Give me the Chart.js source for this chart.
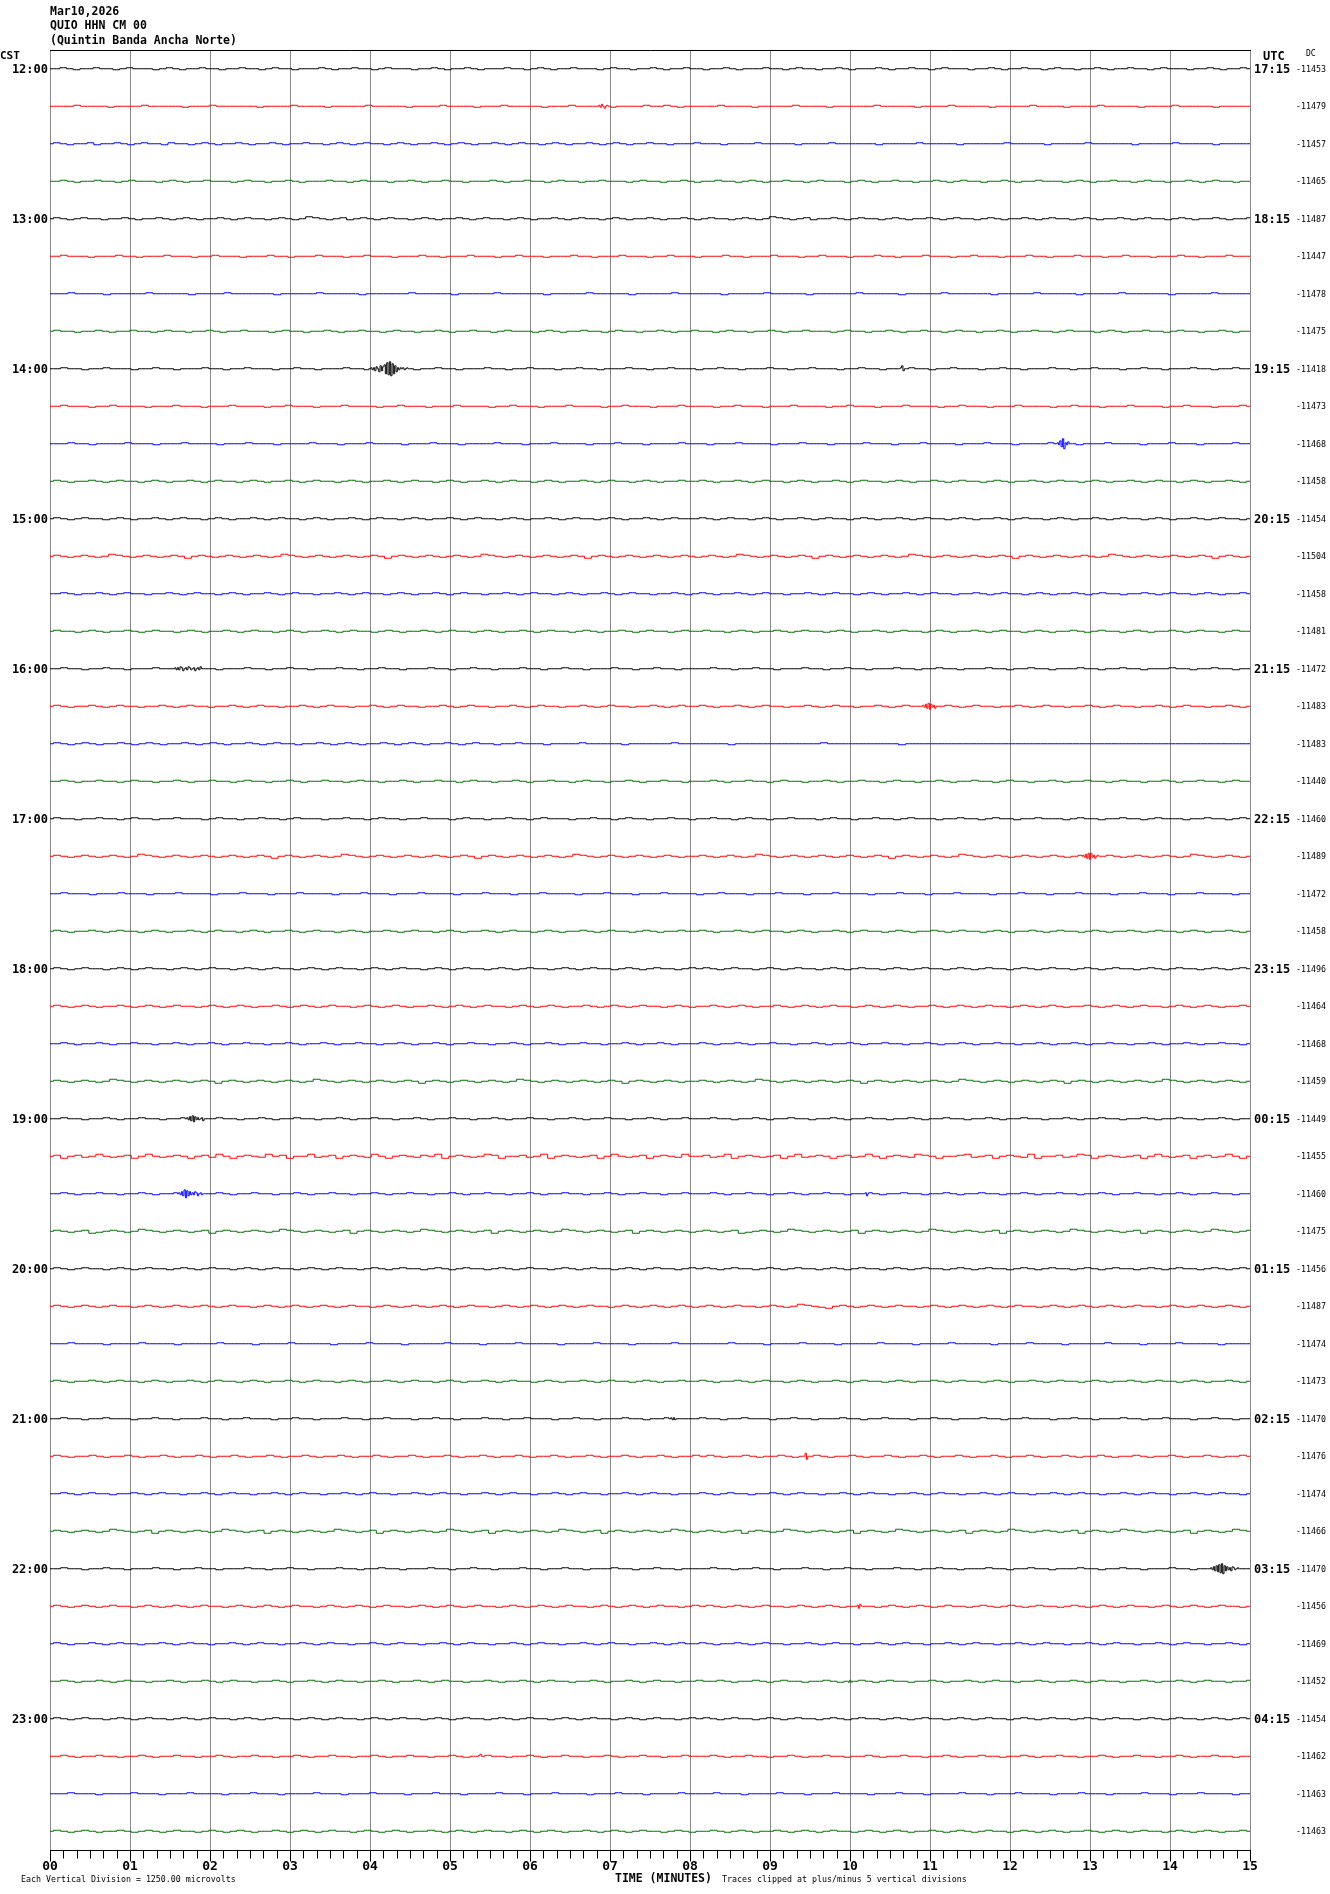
<!DOCTYPE html>
<html><head><meta charset="utf-8">
<script src="https://cdn.jsdelivr.net/npm/chart.js@4/dist/chart.umd.min.js"></script>
<style>html,body{margin:0;padding:0;background:#fff;}canvas{display:block;}</style>
</head><body>
<canvas id="c" width="1330" height="1894"></canvas>
<script>
// ---------- DATA ----------
const titleLines = ["Mar10,2026", "QUIO HHN CM 00", "(Quintin Banda Ancha Norte)"];
const cstLabels = ["12:00","13:00","14:00","15:00","16:00","17:00","18:00","19:00","20:00","21:00","22:00","23:00"];
const utcLabels = ["17:15","18:15","19:15","20:15","21:15","22:15","23:15","00:15","01:15","02:15","03:15","04:15"];
const dcValues = [-11453,-11479,-11457,-11465,-11487,-11447,-11478,-11475,-11418,-11473,-11468,-11458,
  -11454,-11504,-11458,-11481,-11472,-11483,-11483,-11440,-11460,-11489,-11472,-11458,
  -11496,-11464,-11468,-11459,-11449,-11455,-11460,-11475,-11456,-11487,-11474,-11473,
  -11470,-11476,-11474,-11466,-11470,-11456,-11469,-11452,-11454,-11462,-11463,-11463];
const minuteLabels = ["00","01","02","03","04","05","06","07","08","09","10","11","12","13","14","15"];
const traceColors = ["#000000", "#ff0000", "#0000ff", "#007000"];
// trace deviations, one letter per ~5 s ('m' = 0, 'n' = +1, 'l' = -1, 'o' = +2, 'k' = -2 ...)
const noise = [
 "mmnmlmmnmmlmnmmmlmnmlmmnmmlmmnmmlmnmmlmmmnmlmmnmmlmnmmmlmmnmlmmnmlmmmnmmlmnmlmmnmmmlmnmmlmmnmlmmnmmlmmnmlmmmnmmlmnmmlmmnmlmmmnmlmmnmmlmnmmmlmmnmlmmnmmlmnmmlmmnmlmmnmmlmnmmmlmmnmlmmnm",
 "mmmmnmmmmlmmmmnmmmmmlmmmnmmmmmmlmmmmnmmmmlmmmmmnmmmmmlmmmmnmmmmlmmmnmmmmmlmmmnmmmmmlmmmmnmmnmlmmmmmnmmmmlmmmmmnmmmmlmmmmmmnmmmmmlmmmmnmmmmmlmmmmmnmmmmlmmmmnmmmmmlmmmmnmmmmmlmmmmm",
 "mnmlmmnlmmnmlmnmmlnmmlmnmlmmnmlmmnmlmmnmmlmnmlmnmmlmnmlmmnmlmnmlmmnmlmnmmlmnmlmmnmlmnmlmmnmmlmmmnmmmlmmmmnmmmmmlmmmmnmmmmmmlmmmmmnmmmmmlmmmmmmnmmmmmlmmmmmnmmmmmmlmmmmmnmmmmmlmmmmm",
 "mmnmlmmnmmlmnmmmlmnmlmmnmmmlmnmmlmmnmlmmmnmmlmnmmmlmmnmlmmnmmlmmmnmlmmnmmlmnmmlmmnmmmlmnmmlmmnmlmmnmmlmnmlmmnmmlmnmmmlmnmlmmnmmlmmnmlmnmmlmmnmlmmnmmmlmnmlmmnmmlmnmmlmmnmlmnmmlmm",
 "mnmlmnmmlmmnmlmmnmlmnmlmmnmlmnmmlmnmlmonmlmnlmnmlmnmmlmnmlmmnmlmnmmlmnmlmmnmlmnmmlmnmlmmnmlmmnmlmnmmlmnmlmonmlmnlmmnmlmnmmlmnmlmmnmlmnmmlmnmlmmnmlmnmmlmnmlmmnmlmnmmlmnmlmmnmlmmn",
 "mmnmmmlmmmnmmlmmmnmmmlmmnmmmlmmmnmmlmmmnmmmlmmnmmmlmmmnmmlmmmnmmmlmmnmmmlmmmnmmlmmmnmmmlmmnmmmlmmmnmmlmmmnmmmlmmnmmmlmmmnmmlmmmnmmmlmmnmmmlmmmnmmlmmmnmmmlmmnmmmlmmmnmmlmmmnmmm",
 "mmmnmmmmlmmmmmnmmmmmlmmmmnmmmmmmlmmmmmnmmmmmlmmmmmmnmmmmmlmmmmmnmmmmmmlmmmmmnmmmmmlmmmmmnmmmmmmlmmmmmnmmmmmlmmmmmmnmmmmmlmmmmmnmmmmmmlmmmmmnmmmmmlmmmmmnmmmmmmlmmmmmnmmmmm",
 "mnmmlmmnmlmmnmmlmnmmlmmnmlmmnmmmlmnmmlmmnmlmmnmmlmnmmlmmnmlmmnmmlmnmmmlmnmlmmnmmlmnmmlmmnmlmmnmmlmnmmlmmnmlmmnmmmlmnmmlmmnmlmmnmmlmnmmlmmnmlmmnmmlmnmmmlmnmlmmnmmlmnmmlmmnmlmm",
 "mmnmmlmmnmmmlmmnmmlmmmnmmlmmnmmmlmmnmmlmmmnmmlmmnmmmlmmnmmlmmmnmmlmmnmmmlmmnmmlmmmnmmlmmnmmmlmmnmmlmmmnmmlmmnmmmlmmnmmlmmmnmmlmmnmmmlmmnmmlmmmnmmlmmnmmmlmmnmmlmmmnmmlmmnmm",
 "mmnmmmlmmnmmmmlmmmnmmmlmmmnmmmmlmmnmmmlmmmnmmmmlmmnmmmlmmmnmmmmlmmnmmmlmmmnmmmmlmmnmmmlmmmnmmmmlmmnmmmlmmmnmmmmlmmnmmmlmmmnmmmmlmmnmmmlmmmnmmmmlmmnmmmlmmmnmmmmlmmnmmmlmmmnm",
 "mmmnmmlmmmmnmmmlmmmnmmmmlmmmnmmmlmmmmnmmmlmmmnmmmmlmmmnmmmlmmmmnmmmlmmmnmmmmlmmmnmmmlmmmmnmmmlmmmnmmmmlmmmnmmmlmmmmnmmmlmmmnmmmmlmmmnmmmlmmmmnmmmlmmmnmmmmlmmmnmmmlmmmmnmm",
 "mnmlmmnmlmnmmlmnmlmmnmlmnmmlmnmlmmnmlmnmmlmnmlmmnmlmnmmlmnmlmmnmlmnmmlmnmlmmnmlmnmmlmnmlmmnmmnmlmmnmlmnmmlmnmlmmnmlmnmmlmnmlmmnmlmnmmlmnmlmmnmlmnmmlmnmlmmnmlmnmmlmnmlmmnmlm",
 "mnmlmnmmlmnmlmmnmlmnmmlmnmlmmnmlmnmmlmnmlmmnmlmnmmlmnmlmmnmlmnmmlmnmlmmnmlmnmmlmnmlmmnmlmnmmmnmlmnmmlmnmlmmnmlmnmmlmnmlmmnmlmnmmlmnmlmmnmlmnmmlmnmlmmnmlmnmmlmnmlmmnmlmnmmlm",
 "mnmlmnmlmonmlmnmlmnmkmnmlmnmlmnmlmonmlmnmlmnmlmnmkmnmlmnmlmnmlmonmlmnmlmnmlmnmkmnmlmnmlmnmlmnmlmnmlmonmlmnmlmnmkmnmlmnmlmnmlmonmlmnmlmnmlmnmkmnmlmnmlmnmlmonmlmnmlmnmlmnmkmnmlm",
 "mmnmlmmnmlmnmmlmmnmlmnmmlmnmlmmnmlmnmmlmmnmlmnmmlmnmlmmnmlmnmmlmmnmlmnmmlmnmlmmnmlmnmmlmmnmlmnmlmmnmlmnmmlmmnmlmnmmlmnmlmmnmlmnmmlmmnmlmnmmlmnmlmmnmlmnmmlmmnmlmnmmlmnmlmmnm",
 "mnmmlmnmlmmnmlmnmmlmnmlmmnmlmnmmlmnmlmmnmlmnmmlmnmlmmnmlmnmmlmnmlmmnmlmnmmlmnmlmmnmlmnmmlmnmmnmmlmnmlmmnmlmnmmlmnmlmmnmlmnmmlmnmlmmnmlmnmmlmnmlmmnmlmnmmlmnmlmmnmlmnmmlmnmm",
 "mmnmmlmmnmmlmmmnmmlmmnmmlmmmnmmlmmnmmlmmmnmmlmmnmmlmmmnmmlmmnmmlmmmnmmlmmnmmlmmmnmmlmmnmmlmmmmnmmlmmnmmlmmmnmmlmmnmmlmmmnmmlmmnmmlmmmnmmlmmnmmlmmmnmmlmmnmmlmmmnmmlmmnmmlmm",
 "mnmlmmnmlmnmmlmmnmlmnmmlmmnmlmnmmlmmnmlmnmmlmmnmlmnmmlmmnmlmnmmlmmnmlmnmmlmmnmlmnmmlmmnmlmnmmnmlmmnmlmnmmlmmnmlmnmmlmmnmlmnmmlmmnmlmnmmlmmnmlmnmmlmmnmlmnmmlmmnmlmnmmlmmnmlm",
 "mnmlmnmlmmnmlmnmlmmnmlmnmlmmnmlmnmmlmmnmlmnmlmmnmlmnmlmmnmlmnmmlmmnmmmlmmmmnmmmmmlmmmmmmnmmmmmmmlmmmmmmmmmmmmnmmmmmmmmmmlmmmmmmmmmmmmmmmmmmmmmmmmmmmmmmmmmmmmmmmmmmmmmmmmm",
 "mmnmlmmnmmlmnmmlmmnmlmmnmmlmnmmlmmnmlmmnmmlmnmmlmmnmlmmnmmlmnmmlmmnmlmmnmmlmnmmlmmnmlmmnmmlmmmnmlmmnmmlmnmmlmmnmlmmnmmlmnmmlmmnmlmmnmmlmnmmlmmnmlmmnmmlmnmmlmmnmlmmnmmlmnmm",
 "mnmmlmmnmmlmnmmlmmnmmmlmnmmlmmnmmlmnmmmlmmnmmlmnmmlmmnmmmlmnmmlmmnmmlmnmmmlmmnmmlmnmmlmmnmmlmmnmmlmnmmlmmnmmmlmnmmlmmnmmlmnmmmlmmnmmlmnmmlmmnmmmlmnmmlmmnmmlmnmmmlmmnmmlmnm",
 "mnmlmnmlmnmlmonmlmnmlmnmlmnmlmnmkmnmlmnmlmonmlmnmlmnmlmnmlmnmkmnmlmnmlmnmlmonmlmnmlmnmlmnmlmmnmlmnmlmonmlmnmlmnmlmnmlmnmkmnmlmnmlmonmlmnmlmnmlmnmlmnmkmnmlmnmlmnmlmonmlmnmlm",
 "mmnmmmlmmmnmmmlmmmnmmmmlmmmnmmmlmmmnmmmmlmmmnmmmlmmmnmmmmlmmmnmmmlmmmnmmmmlmmmnmmmlmmmnmmmmlmmnmmmlmmmnmmmlmmmnmmmmlmmmnmmmlmmmnmmmmlmmmnmmmlmmmnmmmmlmmmnmmmlmmmnmmmmlmm",
 "mnmlmmnmlmnmmlmnmlmmnmlmnmmlmnmlmmnmlmnmmlmnmlmmnmlmnmmlmnmlmmnmlmnmmlmnmlmmnmlmnmmlmnmlmmnmmnmlmmnmlmnmmlmnmlmmnmlmnmmlmnmlmmnmlmnmmlmnmlmmnmlmnmmlmnmlmmnmlmnmmlmnmlmmnmlm",
 "mnmlmnmmlmnmlmnmmlmnmlmnmmlmnmlmnmmlmnmlmnmmlmnmlmnmmlmnmlmnmmlmnmlmnmmlmnmlmnmmlmnmlmnmmlmnmnmlmnmmlmnmlmnmmlmnmlmnmmlmnmlmnmmlmnmlmnmmlmnmlmnmmlmnmlmnmmlmnmlmnmmlmnmlmnm",
 "mnmlmnmlmmnmlmnmlmnmmlmnmlmnmlmmnmlmnmlmnmmlmnmlmnmlmmnmlmnmlmnmmlmnmlmnmlmmnmlmnmlmnmmlmnmlmmnmlmnmlmmnmlmnmlmnmmlmnmlmnmlmmnmlmnmlmnmmlmnmlmnmlmmnmlmnmlmnmmlmnmlmnmlmmnm",
 "mmnmlmmnmlmmnmmlmmnmlmmnmlmmnmmlmmnmlmmnmlmmnmmlmmnmlmmnmlmmnmmlmmnmlmmnmlmmnmmlmmnmlmmnmlmmmnmlmmnmlmmnmmlmmnmlmmnmlmmnmmlmmnmlmmnmlmmnmmlmmnmlmmnmlmmnmmlmmnmlmmnmlmmnmmlm",
 "mnmlmnmlmonmlmnmlmnmlmnmkmnmlmnmlmnmlmonmlmnmlmnmlmnmkmnmlmnmlmnmlmonmlmnmlmnmlmnmkmnmlmnmlmmnmlmnmlmonmlmnmlmnmlmnmkmnmlmnmlmnmlmonmlmnmlmnmlmnmkmnmlmnmlmnmlmonmlmnmlmnmlm",
 "mmnmmlmmnmlmmnmmlmmnmlmmnmmlmmnmlmmnmmlmmnmlmmnmmlmmnmlmmnmmlmmnmlmmnmmlmmnmlmmnmmlmmnmlmmnmmmnmmlmmnmlmmnmmlmmnmlmmnmmlmmnmlmmnmmlmmnmlmmnmmlmmnmlmmnmmlmmnmlmmnmmlmmnmlmm",
 "mnkmnlmomlmnkmomlmnmkmnlomkmnmlomnkmmolmnkmnmlomkmnmlnmokmnmlmonkmmnlmokmnmlmnkmomlmnkmnmlommnlmokmnmlmnkmolmnmkmnlmomkmnmlonmkmmnolmnkmnmlokmmnlmonkmnmlmnkmomlmnkmnlmomkm",
 "mmnmlmmnmmlmmnmlmmnmmlmmnmlmmnmmlmmnmlmmnmmlmmnmlmmnmmlmmnmlmmnmmlmmnmlmmnmmlmmnmlmmnmmlmmnmmmnmlmmnmmlmmnmlmmnmmlmmnmlmmnmmlmmnmlmmnmmlmmnmlmmnmmlmmnmlmmnmmlmmnmlmmnmmlmm",
 "mnmlmnklmnmlmonmlmnmlmnkmnmlmnmlmonmlmnmlmnkmnmlmnmlmonmlmnmlmnkmnmlmnmlmonmlmnmlmnkmnmlmnmlmnmlmnklmnmlmonmlmnmlmnkmnmlmnmlmonmlmnmlmnkmnmlmnmlmonmlmnmlmnkmnmlmnmlmonmlmn",
 "mnmlmnmmlmnmlmnmmlmnmlmnmmlmnmlmnmmlmnmlmnmmlmnmlmnmmlmnmlmnmmlmnmlmnmmlmnmlmnmmlmnmlmnmmlmnmnmlmnmmlmnmlmnmmlmnmlmnmmlmnmlmnmmlmnmlmnmmlmnmlmnmmlmnmlmnmmlmnmlmnmmlmnmlmnm",
 "mnmlmnmlmnmmlmnmlmnmlmnmlmnmmlmnmlmnmlmnmlmnmmlmnmlmnmlmnmlmnmmlmnmlmnmlmnmlmnmmlmnmlmnmlmnmlmnmlmnmmlmnmlmonmlkmnmlmnmlmnmmlmnmlmnmlmnmlmnmmlmnmlmnmlmnmlmnmmlmnmlmnmlmnmlm",
 "mmmnmmmmlmmmmnmmmmlmmmmmnmmmmlmmmmnmmmmmlmmmmnmmmmlmmmmmnmmmmlmmmmnmmmmmlmmmmnmmmmlmmmmmnmmmmmmmnmmmmlmmmmnmmmmlmmmmmnmmmmlmmmmnmmmmmlmmmmnmmmmlmmmmmnmmmmlmmmmnmmmmmlmmmm",
 "mnmlmmnmlmnmmlmnmlmmnmlmnmmlmnmlmmnmlmnmmlmnmlmmnmlmnmmlmnmlmmnmlmnmmlmnmlmmnmlmnmmlmnmlmmnmmnmlmmnmlmnmmlmnmlmmnmlmnmmlmnmlmmnmlmnmmlmnmlmmnmlmnmmlmnmlmmnmlmnmmlmnmlmmnmlm",
 "mmnmmlmmnmmmlmmnmmlmmmnmmlmmnmmmlmmnmmlmmmnmmlmmnmmmlmmnmmlmmmnmmlmmnmmmlmmnmmlmmmnmmlmmnmmmmnmmlmmnmmmlmmnmmlmmmnmmlmmnmmmlmmnmmlmmmnmmlmmnmmmlmmnmmlmmmnmmlmmnmmmlmmnmmlmm",
 "mnmlmmnmlmmnmlmmnmlmmnmlmmnmlmmnmlmmnmlmmnmlmmnmlmmnmlmmnmlmmnmlmmnmlmmnmlmmnmlmmnmlmmnmlmmnmnmlmmnmlmmnmlmmnmlmmnmlmmnmlmmnmlmmnmlmmnmlmmnmlmmnmlmmnmlmmnmlmmnmlmmnmlmmnm",
 "mmnmlmnmmlmmnmlmnmmlmmnmlmnmmlmmnmlmnmmlmmnmlmnmmlmmnmlmnmmlmmnmlmnmmlmmnmlmnmmlmmnmlmnmmlmmmnmlmnmmlmmnmlmnmmlmmnmlmnmmlmmnmlmnmmlmmnmlmnmmlmmnmlmnmmlmmnmlmnmmlmmnmlmnmmlm",
 "mnmlmnmlmonmlmnkmnmlmnmlmonmlmnkmnmlmnmlmonmlmnkmnmlmnmlmonmlmnkmnmlmnmlmonmlmnkmnmlmnmlmonmlmnmlmnkmnmlmonmlmnmlmnkmnmlmonmlmnmlmnkmnmlmonmlmnmlmnkmnmlmonmlmnmlmnkmnmlmonm",
 "mmnmmlmmnmmlmmmnmmlmmnmmlmmmnmmlmmnmmlmmmnmmlmmnmmlmmmnmmlmmnmmlmmmnmmlmmnmmlmmmnmmlmmnmmlmmmmnmmlmmnmmlmmmnmmlmmnmmlmmmnmmlmmnmmlmmmnmmlmmnmmlmmmnmmlmmnmmlmmmnmmlmmnmmlmm",
 "mnmlmnmlmnmmlmnmlmnmlmnmmlmnmlmnmlmnmmlmnmlmnmlmnmmlmnmlmnmlmnmmlmnmlmnmlmnmmlmnmlmnmlmnmmlmnmnmlmnmlmnmmlmnmlmnmlmnmmlmnmlmnmlmnmmlmnmlmnmlmnmmlmnmlmnmlmnmmlmnmlmnmlmnmmlm",
 "mnmlmmnmlmnmmlmmnmlmnmmlmmnmlmnmmlmmnmlmnmmlmmnmlmnmmlmmnmlmnmmlmmnmlmnmmlmmnmlmnmmlmmnmlmnmmnmlmmnmlmnmmlmmnmlmnmmlmmnmlmnmmlmmnmlmnmmlmmnmlmnmmlmmnmlmnmmlmmnmlmnmmlmmnmlm",
 "mmnmlmmnmlmnmmlmmnmlmmnmlmnmmlmmnmlmmnmlmnmmlmmnmlmmnmlmnmmlmmnmlmmnmlmnmmlmmnmlmmnmlmnmmlmmnmmnmlmmnmlmnmmlmmnmlmmnmlmnmmlmmnmlmmnmlmnmmlmmnmlmmnmlmnmmlmmnmlmmnmlmnmmlmmn",
 "mnmlmnmmlmnmlmnmmlmnmlmnmmlmnmlmnmmlmnmlmnmmlmnmlmnmmlmnmlmnmmlmnmlmnmmlmnmlmnmmlmnmlmnmmlmnmnmlmnmmlmnmlmnmmlmnmlmnmmlmnmlmnmmlmnmlmnmmlmnmlmnmmlmnmlmnmmlmnmlmnmmlmnmlmnm",
 "mmnmlmmnmmlmmnmlmmnmmlmmnmlmmnmmlmmnmlmmnmmlmmnmlmmnmmlmmnmlmmnmmlmmnmlmmnmmlmmnmlmmnmmlmmnmmmnmlmmnmmlmmnmlmmnmmlmmnmlmmnmmlmmnmlmmnmmlmmnmlmmnmmlmmnmlmmnmmlmmnmlmmnmmlmm",
 "mmmnmmmlmmmmnmmmlmmmnmmmmlmmmnmmmlmmmmnmmmlmmmnmmmmlmmmnmmmlmmmmnmmmlmmmnmmmmlmmmnmmmlmmmmnmmmmnmmmlmmmmnmmmlmmmnmmmmlmmmnmmmlmmmmnmmmlmmmnmmmmlmmmnmmmlmmmmnmmmlmmmnmmmmlmm",
 "mnmlmnmlmmnmlmnmlmnmmlmnmlmnmlmmnmlmnmlmnmmlmnmlmnmlmmnmlmnmlmnmmlmnmlmnmlmmnmlmnmlmnmmlmnmlmmnmlmnmlmmnmlmnmlmnmmlmnmlmnmlmmnmlmnmlmnmmlmnmlmnmlmmnmlmnmlmnmmlmnmlmnmlmmnm"
];
// local events: [row, start minute, deviations one letter per second]
const events = [
 [1, 6.85, "mnlomkmnm"],
 [8, 4.00, "mnlnkomjpkoqhsgtfrhpjnlnmnlmnm"],
 [8, 10.62, "mnpkmm"],
 [10, 12.58, "mnlpjrhnlom"],
 [16, 1.55, "mnlnlonkmnlonlmnkmnlom"],
 [17, 10.90, "mnlokpjolnkm"],
 [21, 12.90, "mnlokpjplnkmnm"],
 [28, 1.70, "mnlokpjolnlmnkm"],
 [30, 1.60, "mnlokqipkolnlonkmnlm"],
 [30, 10.18, "mnkm"],
 [36, 7.75, "mnlnlm"],
 [37, 9.43, "mpjm"],
 [40, 14.50, "mnlokpjqirhpkolnkonlmnm"],
 [41, 10.08, "mnkom"],
 [43, 9.97, "mlnlm"],
 [45, 5.35, "mnom"]
];

// ---------- BUILD ----------
const ROWS_PER_UNIT = 1 / 37.5; // one deviation step in row units
const val = ch => ch.charCodeAt(0) - 109;
const datasets = noise.map((s, r) => {
  let pts = [];
  for (let i = 0; i < s.length; i++) {
    pts.push({x: i * 15 / (s.length - 1), y: r - val(s[i]) * ROWS_PER_UNIT});
  }
  events.filter(e => e[0] === r).forEach(e => {
    const st = e[1], str = e[2], en = st + (str.length - 1) / 60;
    pts = pts.filter(p => p.x < st || p.x > en);
    for (let j = 0; j < str.length; j++) pts.push({x: st + j / 60, y: r - val(str[j]) * ROWS_PER_UNIT});
  });
  pts.sort((a, b) => a.x - b.x);
  return {data: pts, borderColor: traceColors[r % 4], borderWidth: 1, pointRadius: 0, stepped: 'middle', fill: false};
});

const MONO = '"DejaVu Sans Mono", "Liberation Mono", monospace';
const decor = {
  id: 'decor',
  beforeDatasetsDraw(chart) {
    const {ctx, chartArea: a, scales: {x}} = chart;
    ctx.save();
    ctx.strokeStyle = '#888888'; ctx.lineWidth = 1;
    for (let m = 0; m <= 15; m++) {
      const px = Math.round(x.getPixelForValue(m)) + 0.5;
      ctx.beginPath(); ctx.moveTo(px, a.top); ctx.lineTo(px, a.bottom); ctx.stroke();
    }
    ctx.strokeStyle = '#000'; ctx.beginPath();
    ctx.moveTo(a.left, a.top + 0.5); ctx.lineTo(a.right + 1, a.top + 0.5); ctx.stroke();
    ctx.restore();
  },
  afterDraw(chart) {
    const {ctx, chartArea: a, scales: {x, y}} = chart;
    ctx.save();
    ctx.fillStyle = '#000'; ctx.strokeStyle = '#000'; ctx.lineWidth = 1;
    const by = Math.round(a.bottom) + 0.5;
    ctx.beginPath(); ctx.moveTo(a.left, by); ctx.lineTo(a.right + 1, by); ctx.stroke();
    for (let k = 0; k <= 90; k++) {
      const px = Math.round(x.getPixelForValue(k / 6)) + 0.5;
      const len = (k % 6 === 0) ? 11 : 8;
      ctx.beginPath(); ctx.moveTo(px, by); ctx.lineTo(px, by + len); ctx.stroke();
    }
    ctx.font = 'bold 13px ' + MONO; ctx.textAlign = 'center'; ctx.textBaseline = 'middle';
    minuteLabels.forEach((t, i) => ctx.fillText(t, x.getPixelForValue(i), a.bottom + 17));
    ctx.textAlign = 'left';
    ctx.font = 'bold 11.5px ' + MONO;
    ctx.fillText("TIME (MINUTES)", 615, a.bottom + 29);
    ctx.font = '8.3px ' + MONO;
    ctx.fillText("Each Vertical Division = 1250.00 microvolts", 21, a.bottom + 30);
    ctx.fillText("Traces clipped at plus/minus 5 vertical divisions", 722, a.bottom + 30);
    ctx.font = 'bold 11.5px ' + MONO;
    titleLines.forEach((t, i) => ctx.fillText(t, a.left, 12 + i * 14.5));
    ctx.font = 'bold 11px ' + MONO;
    ctx.fillText("CST", 0, 56);
    ctx.font = 'bold 12px ' + MONO;
    ctx.fillText("UTC", 1263, 57);
    ctx.font = '8px ' + MONO;
    ctx.fillText("DC", 1306, 54);
    ctx.font = 'bold 12px ' + MONO;
    ctx.textAlign = 'right';
    cstLabels.forEach((t, i) => ctx.fillText(t, a.left - 2, y.getPixelForValue(i * 4) + 1));
    ctx.textAlign = 'left';
    utcLabels.forEach((t, i) => ctx.fillText(t, a.right + 4, y.getPixelForValue(i * 4) + 1));
    ctx.font = '8.3px ' + MONO;
    dcValues.forEach((v, i) => ctx.fillText(String(v), 1296, y.getPixelForValue(i) + 1));
    ctx.restore();
  }
};

new Chart(document.getElementById('c'), {
  type: 'line',
  data: {datasets},
  options: {
    responsive: false, animation: false, devicePixelRatio: 1,
    layout: {padding: {left: 50, right: 80, top: 50, bottom: 44}},
    plugins: {legend: {display: false}, tooltip: {enabled: false}},
    scales: {
      x: {type: 'linear', min: 0, max: 15, display: false},
      y: {type: 'linear', min: -0.5, max: 47.5, reverse: true, display: false}
    }
  },
  plugins: [decor]
});
</script>
</body></html>
